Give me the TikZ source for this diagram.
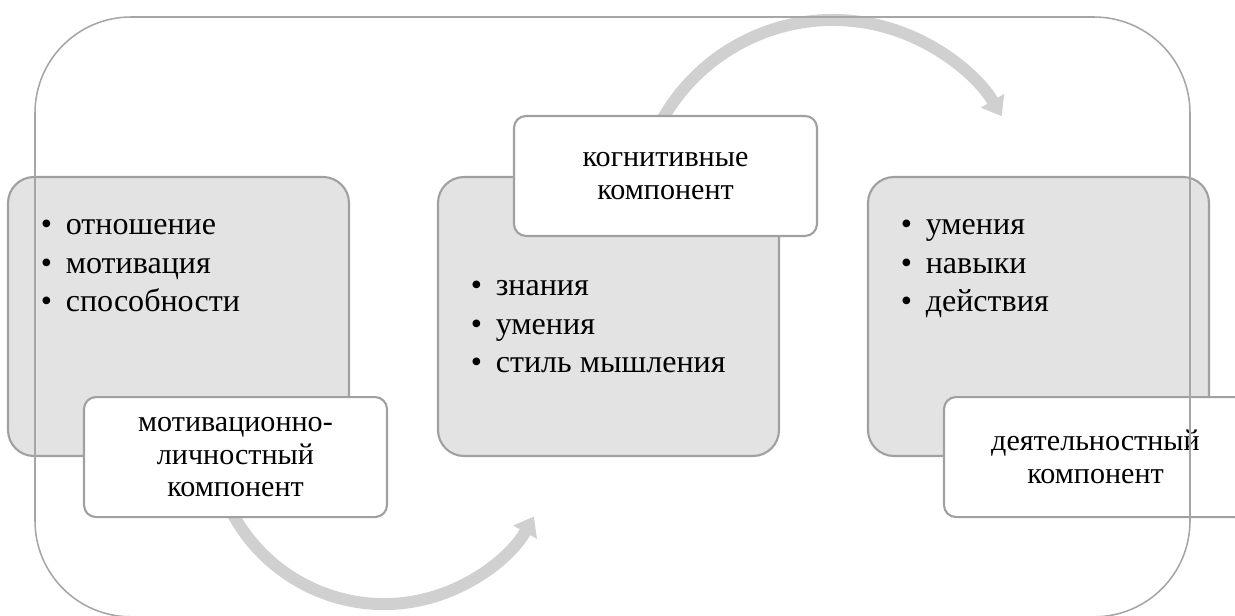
\documentclass[tikz,border=0pt]{standalone}
\usepackage{fontspec}
\setmainfont{Liberation Serif}
\usepackage{tikz}
\usetikzlibrary{arrows.meta, positioning}
\definecolor{FrameGray}{HTML}{A6A6A6}
\definecolor{BoxGray}{HTML}{E3E3E3}
\definecolor{EdgeGray}{HTML}{A0A0A0}
\definecolor{ArrowGray}{HTML}{D0D0D0}
\newcommand{\bul}{\makebox[0.625cm][l]{\textbullet}}
\tikzset{
  compbox/.style={rectangle, rounded corners=0.65cm, draw=EdgeGray, line width=1.5pt, fill=BoxGray, minimum width=8.525cm, minimum height=6.975cm},
  namebox/.style={rectangle, rounded corners=0.3cm, draw=EdgeGray, line width=1.5pt, fill=white, minimum width=7.575cm, minimum height=3cm, align=center, font=\fontsize{21.4}{23.1}\selectfont},
  itemlist/.style={anchor=base west, inner sep=0pt, font=\fontsize{22.8}{27.4}\selectfont},
  cyclearrow/.style={line width=0.3cm, draw=ArrowGray, -{Triangle[width=0.65cm, length=0.45cm]}},
  framebox/.style={draw=FrameGray, line width=1.1pt, rounded corners=2.4cm}
}

\begin{document}
\begin{tikzpicture}
  \clip (0,0) rectangle (30.875,-15.375);

  % grey component boxes
  \node[compbox] (motbox) at (4.4625,-7.9125) {};
  \node[compbox] (cogbox) at (15.2125,-7.9125) {};
  \node[compbox] (actbox) at (25.9625,-7.9125) {};

  \node[itemlist] (motitems) at ([xshift=0.84cm, yshift=-1.475cm]motbox.north west)
    {\begin{tabular}[t]{@{}l@{}}\bul отношение\\ \bul мотивация\\ \bul способности\end{tabular}};
  \node[itemlist] (cogitems) at ([xshift=0.84cm, yshift=-3cm]cogbox.north west)
    {\begin{tabular}[t]{@{}l@{}}\bul знания\\ \bul умения\\ \bul стиль мышления\end{tabular}};
  \node[itemlist] (actitems) at ([xshift=0.84cm, yshift=-1.475cm]actbox.north west)
    {\begin{tabular}[t]{@{}l@{}}\bul умения\\ \bul навыки\\ \bul действия\end{tabular}};

  \coordinate (motpos) at ([xshift=1.425cm]motbox.south);
  \coordinate (cogpos) at ([xshift=1.425cm]cogbox.north);
  \coordinate (actpos) at ([xshift=1.425cm]actbox.south);

  % cycle arrows
  \draw[cyclearrow] ([shift={(-0.415,-0.575)}]motpos) arc[start angle=196.2, end angle=330.6, radius=4.3cm];
  \draw[cyclearrow] ([shift={(-0.4175,0.675)}]cogpos) arc[start angle=160, end angle=30.6, radius=4.9cm];

  % labels
  \node[namebox] (motlab) at (motpos) {мотивационно-\\личностный\\компонент};
  \node[namebox] (coglab) at (cogpos) {когнитивные\\компонент};
  \node[namebox] (actlab) at (actpos) {деятельностный\\компонент};

  % outer frame
  \draw[framebox] (0.875,-0.425) rectangle (29.75,-15.42);
\end{tikzpicture}
\end{document}
